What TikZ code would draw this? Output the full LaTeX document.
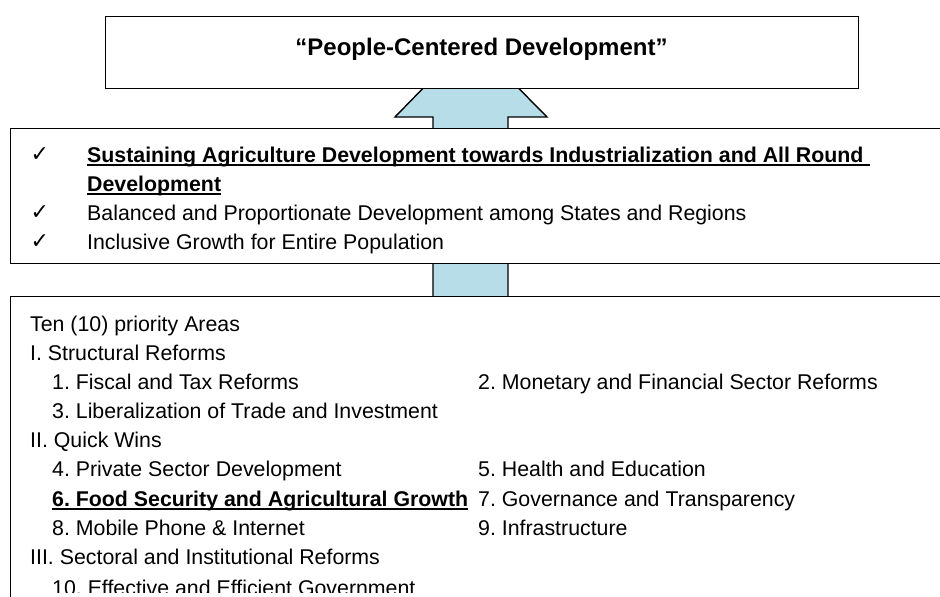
\documentclass[tikz,border=0pt]{standalone}
\usepackage{fontspec}
\setmainfont{Liberation Sans}
\newfontfamily\symfont{DejaVu Sans}
\definecolor{arrowblue}{HTML}{B7DDE8}
\frenchspacing
\begin{document}
\begin{tikzpicture}[x=1pt,y=-1pt,
  frame/.style={draw=black, line width=1.4pt, fill=white, inner sep=0pt},
  body/.style={anchor=base west, inner sep=0pt, font=\fontsize{21.33}{25}\selectfont},
  strong/.style={anchor=base west, inner sep=0pt, font=\fontsize{21.33}{25}\selectfont\bfseries},
  headline/.style={anchor=base, inner sep=0pt, font=\fontsize{24}{28}\selectfont\bfseries},
  tick/.style={anchor=base west, inner sep=0pt, font=\symfont\fontsize{22}{26}\selectfont},
  uline/.style={line width=2pt},
  blockarrow/.style={draw=black, line width=1.4pt, fill=arrowblue, line join=miter},
]
\useasboundingbox (0,0) rectangle (940,597);
\clip (0,0) rectangle (940,597);

% upward block arrow; the boxes drawn afterwards hide its tip and part of its shaft
\filldraw[blockarrow] (470.5,39.5) -- (547,117) -- (508,117) -- (508,300)
  -- (433,300) -- (433,117) -- (395,117) -- cycle;

% the three boxes
\node[frame, anchor=north west, minimum width=753, minimum height=72] (goal) at (105,16) {};
\node[frame, anchor=north west, minimum width=950, minimum height=135] (aims) at (9.5,128) {};
\node[frame, anchor=north west, minimum width=950, minimum height=340] (areas) at (9.5,296) {};

% goal
\node[headline] (title) at (481.5,55) {“People-Centered Development”};

% aims
\node[tick] (c1) at (30.5,161.5) {✓};
\node[tick] (c2) at (30.5,219.5) {✓};
\node[tick] (c3) at (30.5,248.5) {✓};
\node[strong] (a1) at (87,162.5) {Sustaining Agriculture Development towards Industrialization and All Round\kern0.278em};
\node[strong] (a1b) at (87,191.5) {Development};
\node[body] (a2) at (87,220.5) {Balanced and Proportionate Development among States and Regions};
\node[body] (a3) at (87,249.5) {Inclusive Growth for Entire Population};
\draw[uline] ([yshift=-2.8pt]a1.base west) -- ([yshift=-2.8pt]a1.base east);
\draw[uline] ([yshift=-2.8pt]a1b.base west) -- ([yshift=-2.8pt]a1b.base east);

% priority areas
\node[body] (p0) at (30,331) {Ten (10) priority Areas};
\node[body] (g1) at (30,360) {I. Structural Reforms};
\node[body] (p1) at (52,389.3) {1. Fiscal and Tax Reforms};
\node[body] (p2) at (478,389.3) {2. Monetary and Financial Sector Reforms};
\node[body] (p3) at (52,418.3) {3. Liberalization of Trade and Investment};
\node[body] (g2) at (30,447.3) {II. Quick Wins};
\node[body] (p4) at (52,476.7) {4. Private Sector Development};
\node[body] (p5) at (478,476.7) {5. Health and Education};
\node[strong] (p6) at (52,506) {6. Food Security and Agricultural Growth};
\node[body] (p7) at (478,506) {7. Governance and Transparency};
\node[body] (p8) at (52,535.5) {8. Mobile Phone \& Internet};
\node[body] (p9) at (478,535.5) {9. Infrastructure};
\node[body] (g3) at (30,564) {III. Sectoral and Institutional Reforms};
\draw[uline] ([yshift=-2.8pt]p6.base west) -- ([yshift=-2.8pt]p6.base east);

% the last line is cut off by the lower edge of the text area
\begin{scope}
  \clip (0,0) rectangle (940,592.5);
  \node[body] (p10) at (52,595) {10. Effective and Efficient Government};
\end{scope}
\end{tikzpicture}
\end{document}
